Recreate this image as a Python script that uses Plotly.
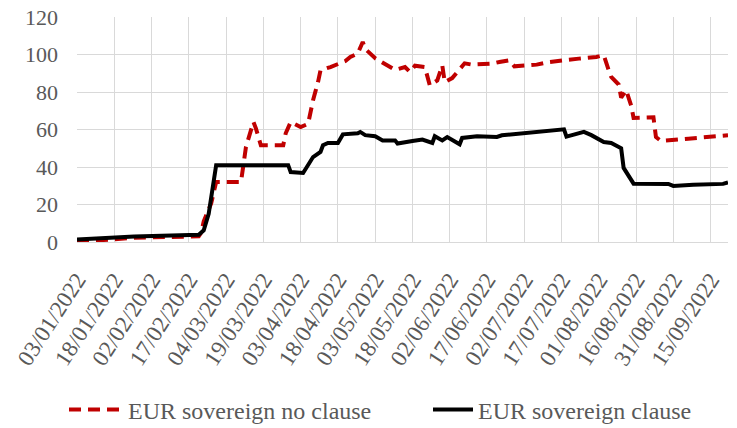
import plotly.graph_objects as go

# EUR sovereign clause (black solid)
clause_dates = ["2022-01-03", "2022-01-17", "2022-01-26", "2022-02-21", "2022-02-23", "2022-02-25",
                "2022-02-28", "2022-03-29", "2022-03-30", "2022-04-04", "2022-04-06", "2022-04-08",
                "2022-04-11", "2022-04-12", "2022-04-14", "2022-04-18", "2022-04-20", "2022-04-26",
                "2022-04-27", "2022-04-29", "2022-05-03", "2022-05-06", "2022-05-11", "2022-05-12",
                "2022-05-18", "2022-05-22", "2022-05-26", "2022-05-27", "2022-05-30", "2022-06-01",
                "2022-06-06", "2022-06-07", "2022-06-13", "2022-06-21", "2022-06-23", "2022-07-03",
                "2022-07-08", "2022-07-14", "2022-07-18", "2022-07-19", "2022-07-26", "2022-07-29",
                "2022-08-03", "2022-08-06", "2022-08-10", "2022-08-11", "2022-08-13", "2022-08-15",
                "2022-08-29", "2022-08-31", "2022-09-08", "2022-09-17", "2022-09-20", "2022-09-22"]
clause_values = [1.3, 2.3, 3.0, 3.9, 6.2, 15,
                 40.9, 41, 37.3, 36.8, 41, 45.3,
                 48, 51.6, 52.8, 52.8, 57.4, 58,
                 58.7, 57, 56.4, 54.2, 54.2, 52.5,
                 53.9, 54.6, 52.8, 56.4, 54.2, 56,
                 52.1, 55.5, 56.4, 56, 56.9, 58.1,
                 58.7, 59.6, 60.1, 56.2, 58.7, 57,
                 53.3, 52.8, 50, 39.5, 35, 31.1,
                 31, 29.9, 30.6, 31, 31, 31.8]

# EUR sovereign no clause (red dashed)
noclause_dates = ["2022-01-03", "2022-01-17", "2022-01-26", "2022-02-21", "2022-02-22", "2022-02-23",
                  "2022-02-26", "2022-02-28", "2022-03-10", "2022-03-12", "2022-03-15", "2022-03-16",
                  "2022-03-18", "2022-03-27", "2022-03-28", "2022-03-30", "2022-04-03", "2022-04-06",
                  "2022-04-08", "2022-04-10", "2022-04-11", "2022-04-15", "2022-04-17", "2022-04-21",
                  "2022-04-23", "2022-04-26", "2022-04-28", "2022-04-29", "2022-05-03", "2022-05-07",
                  "2022-05-11", "2022-05-15", "2022-05-17", "2022-05-19", "2022-05-23", "2022-05-25",
                  "2022-05-28", "2022-05-30", "2022-05-31", "2022-06-03", "2022-06-06", "2022-06-08",
                  "2022-06-11", "2022-06-19", "2022-06-22", "2022-06-26", "2022-06-28", "2022-07-03",
                  "2022-07-07", "2022-07-12", "2022-07-19", "2022-07-24", "2022-07-31", "2022-08-03",
                  "2022-08-05", "2022-08-06", "2022-08-09", "2022-08-10", "2022-08-12", "2022-08-14",
                  "2022-08-15", "2022-08-23", "2022-08-24", "2022-08-26", "2022-09-06", "2022-09-22"]
noclause_values = [0, 1.3, 2.3, 3, 5, 11,
                   20.6, 32, 32, 50.7, 64, 60.6,
                   51.6, 51.6, 58, 64, 61.3, 63,
                   75.6, 85.3, 91.6, 93.3, 94.2, 96.5,
                   98.7, 100.5, 106.7, 103, 98, 94.7,
                   91.8, 93.3, 90.7, 94, 93.3, 83.5,
                   86.2, 94.2, 85.3, 87.4, 92, 95.3,
                   94.6, 95.1, 96, 96.9, 93.7, 94.2,
                   94.6, 96, 97.3, 97.8, 98.7, 99.6,
                   91.6, 88, 84, 77, 81, 72.9,
                   66.2, 66.5, 56, 53.9, 55.1, 56.9]

y_ticks = [0, 20, 40, 60, 80, 100, 120]

FONT = "Liberation Serif"
GREY = "#595959"
GRID = "#d9d9d9"

fig = go.Figure()
fig.add_trace(go.Scatter(x=noclause_dates, y=noclause_values, mode="lines",
                         name="EUR sovereign no clause", legend="legend",
                         line=dict(color="#c00000", width=4, dash="12px,7px")))
fig.add_trace(go.Scatter(x=clause_dates, y=clause_values, mode="lines",
                         name="EUR sovereign clause", legend="legend2",
                         line=dict(color="#000000", width=4)))

leg_common = dict(orientation="h", xref="container", yref="container",
                  xanchor="left", y=0.042, yanchor="middle",
                  font=dict(family=FONT, size=24, color=GREY),
                  bgcolor="rgba(0,0,0,0)")

fig.update_layout(
    width=737, height=428,
    margin=dict(l=77, r=9, t=17, b=186, autoexpand=False),
    paper_bgcolor="white", plot_bgcolor="white",
    font=dict(family=FONT, size=22, color=GREY),
    showlegend=True,
    legend=dict(x=64 / 737, itemwidth=54, **leg_common),
    legend2=dict(x=428 / 737, itemwidth=40, **leg_common),
)
fig.update_xaxes(
    type="date",
    range=["2022-01-03", "2022-09-22"],
    tick0="2022-01-03", dtick=15 * 86400000,
    tickformat="%d/%m/%Y", tickangle=-57,
    showgrid=True, gridcolor=GRID, gridwidth=1.3,
    showline=True, linecolor=GRID, linewidth=1.3,
    ticks="", ticklabelstandoff=14, automargin=False,
    tickfont=dict(family=FONT, size=23, color=GREY),
    zeroline=False,
)
fig.update_yaxes(
    range=[0, 120], tickvals=y_ticks,
    showgrid=True, gridcolor=GRID, gridwidth=1.3,
    showline=False, zeroline=False, ticks="",
    ticklabelstandoff=18, automargin=False,
    tickfont=dict(family=FONT, size=22, color=GREY),
)

fig.write_html("out.html", config={"displayModeBar": False},
               post_script="document.body.style.margin='0';document.body.style.overflow='hidden';")
